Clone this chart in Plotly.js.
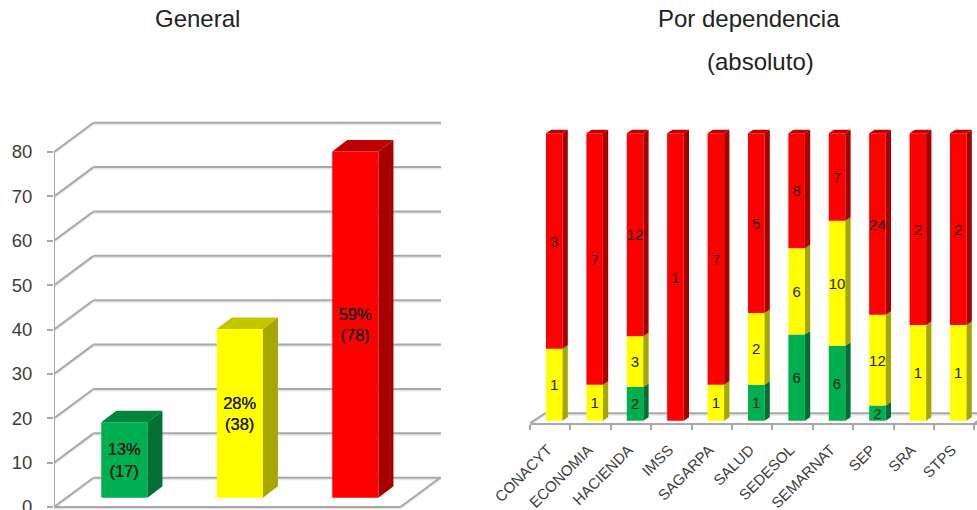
<!DOCTYPE html>
<html>
<head>
<meta charset="utf-8">
<script src="https://cdn.plot.ly/plotly-3.0.1.min.js"></script>
<style>html,body{margin:0;padding:0;background:#fff;overflow:hidden}</style>
</head>
<body>
<div id="chart" style="width:977px;height:510px"></div>
<script>
// ---------- data ----------
const generalValues = [17, 38, 78];
const generalLabels = ["13%<br>(17)", "28%<br>(38)", "59%<br>(78)"];
const generalTicks = [0, 10, 20, 30, 40, 50, 60, 70, 80];

const dependencias = ["CONACYT","ECONOMIA","HACIENDA","IMSS","SAGARPA","SALUD","SEDESOL","SEMARNAT","SEP","SRA","STPS"];
const verdes    = [0, 0, 2, 0, 0, 1, 6, 6, 2, 0, 0];
const amarillos = [1, 1, 3, 0, 1, 2, 6, 10, 12, 1, 1];
const rojos     = [3, 7, 12, 1, 7, 5, 8, 7, 24, 2, 2];

const frontColors = ["#00b050", "#ffff00", "#ff0000"];
const sideColors  = ["#007132", "#a6a600", "#a60000"];
const topColors   = ["#00863c", "#c4c400", "#c00000"];

// ---------- geometry in axis units ----------
const W = 977, H = 510, FONT = '"Liberation Sans", Arial, sans-serif';
const GRID = "#a8a8a8", GRIDSHADOW = "#e6e6e6", TEXT = "#3c3c3c", LABEL = "#1c1c1c";
const L = {px0:54, px1:441, pyBottom:510, pyTop:118, zero:507, ppu:4.4375, pitch:115.5,
           wallDx:0.342, wallDy:6.6, barOff:0.109, barW:0.40, barBase:2.1, barDx:0.13, barDy:2.59};
const R = {px0:530, px1:977, pyBottom:423.3, pyTop:118, zero:420.7, ppu:2.874, pitch:40.4,
           wallDx:0.371, wallDy:3.48, barOff:0.10, barW:0.41, barDx:0.131, barDy:1.22, labelShift:-0.06};
const lyMin = -(L.pyBottom - L.zero) / L.ppu, lyMax = (L.zero - L.pyTop) / L.ppu;
const lxMax = -0.5 + (L.px1 - L.px0) / L.pitch;
const ryMin = -(R.pyBottom - R.zero) / R.ppu, ryMax = (R.zero - R.pyTop) / R.ppu;
const rxMax = -0.5 + (R.px1 - R.px0) / R.pitch;

function face(xs, ys, color, xa, ya) {
  return {type:"scatter", mode:"lines", x:xs, y:ys, fill:"toself", fillcolor:color,
          line:{width:0, color:color}, hoverinfo:"skip", showlegend:false, xaxis:xa, yaxis:ya};
}
function prism(x, w, b, t, dx, dy, side, top, xa, ya, withTop) {
  const out = [face([x+w, x+w+dx, x+w+dx, x+w, x+w], [b, b+dy, t+dy, t, b], side, xa, ya)];
  if (withTop) out.push(face([x, x+dx, x+w+dx, x+w, x], [t, t+dy, t+dy, t, t], top, xa, ya));
  return out;
}
const shadowShapes = [], shapes = [];
function seg(xref, yref, ppu, x0, y0, x1, y1) {
  const off = 1.7 / ppu;
  shadowShapes.push({type:"line", layer:"below", xref:xref, yref:yref, x0:x0, y0:y0-off, x1:x1, y1:y1-off,
          line:{color:GRIDSHADOW, width:1.5}});
  shapes.push({type:"line", layer:"below", xref:xref, yref:yref, x0:x0, y0:y0, x1:x1, y1:y1,
          line:{color:GRID, width:2}});
}

const traces = [];

// ---------- left panel ----------
const lx = generalValues.map((_, i) => i + L.barOff);
traces.push({type:"bar", x:lx, y:generalValues, base:generalValues.map(() => L.barBase), width:L.barW,
  marker:{color:frontColors, line:{width:0}}, text:generalLabels, textposition:"inside",
  insidetextanchor:"middle", constraintext:"none", textangle:0,
  insidetextfont:{family:FONT, size:16.5, color:LABEL, shadow:"0 0 0.5px #1c1c1c"}, hoverinfo:"skip", showlegend:false,
  xaxis:"x", yaxis:"y"});
generalValues.forEach((v, i) => {
  const x = lx[i] - L.barW / 2;
  traces.push(...prism(x, L.barW, L.barBase, L.barBase + v, L.barDx, L.barDy, sideColors[i], topColors[i], "x", "y", true));
});
generalTicks.forEach(t => {
  seg("x","y", L.ppu, -0.5, t, -0.5 + L.wallDx, t + L.wallDy);
  seg("x","y", L.ppu, -0.5 + L.wallDx, t + L.wallDy, lxMax, t + L.wallDy);
});
seg("x","y", L.ppu, -0.5, 0, 2.5, 0);
seg("x","y", L.ppu, 2.5, 0, 2.5 + L.wallDx, L.wallDy);
traces.push({type:"scatter", mode:"lines", x:[-0.5,-0.5], y:[0, generalTicks[generalTicks.length-1]],
  line:{color:GRID, width:2}, cliponaxis:false, hoverinfo:"skip", showlegend:false, xaxis:"x", yaxis:"y"});

// ---------- right panel ----------
const rx = dependencias.map((_, i) => i + R.barOff);
const totals = dependencias.map((_, i) => verdes[i] + amarillos[i] + rojos[i]);
let running = totals.map(() => 0);
const sideFaces = [];
[verdes, amarillos, rojos].forEach((serie, s) => {
  const share = serie.map((v, i) => v / totals[i] * 100);
  const base = running.slice();
  traces.push({type:"bar", x:rx, y:share, base:base, width:R.barW,
    marker:{color:frontColors[s], line:{width:0}}, text:serie.map(v => v ? String(v) : ""),
    textposition:"inside", insidetextanchor:"middle", constraintext:"none", textangle:0,
    insidetextfont:{family:FONT, size:15, color:LABEL}, hoverinfo:"skip", showlegend:false,
    xaxis:"x2", yaxis:"y2"});
  serie.forEach((v, i) => {
    if (!v) return;
    sideFaces.push(...prism(rx[i] - R.barW/2, R.barW, base[i], base[i] + share[i], R.barDx, R.barDy,
      sideColors[s], topColors[s], "x2", "y2", s === 2));
  });
  running = running.map((r, i) => r + share[i]);
});
traces.push(...sideFaces);
seg("x2","y2", R.ppu, -0.5, ryMin, -0.5 + R.wallDx, ryMin + R.wallDy);
seg("x2","y2", R.ppu, -0.5 + R.wallDx, ryMin + R.wallDy, rxMax, ryMin + R.wallDy);
seg("x2","y2", R.ppu, 10.5, ryMin, 10.5 + R.wallDx, ryMin + R.wallDy);

const layout = {
  width:W, height:H, margin:{l:0,r:0,t:0,b:0,pad:0}, paper_bgcolor:"#fff", plot_bgcolor:"rgba(0,0,0,0)",
  barmode:"overlay", showlegend:false, font:{family:FONT, color:TEXT},
  xaxis:{domain:[L.px0/W, L.px1/W], range:[-0.5, lxMax], showgrid:false, zeroline:false, showticklabels:false, ticks:"", showline:false, fixedrange:true},
  yaxis:{domain:[(H-L.pyBottom)/H, (H-L.pyTop)/H], range:[lyMin, lyMax], tickmode:"array", tickvals:generalTicks,
         ticktext:generalTicks.map(String), ticks:"outside", ticklen:6, tickwidth:2, tickcolor:GRID,
         ticklabelstandoff:11, ticklabeloverflow:"allow", showgrid:false, zeroline:false, showline:false,
         tickfont:{family:FONT, size:18.5, color:TEXT}, fixedrange:true},
  xaxis2:{domain:[R.px0/W, 1], range:[-0.5, rxMax], anchor:"y2", tickmode:"array",
          tickvals:dependencias.map((_, i) => i + R.labelShift), ticktext:dependencias, tickangle:-45,
          ticks:"", ticklabelstandoff:10, ticklabeloverflow:"allow", showgrid:false, zeroline:false, showline:true, linecolor:GRID, linewidth:2,
          tickfont:{family:FONT, size:15, color:TEXT}, fixedrange:true,
          minor:{tickmode:"array", tickvals:dependencias.map((_, i) => i - 0.5).concat([10.5]), ticks:"outside", ticklen:5, tickwidth:2, tickcolor:GRID, showgrid:false}},
  yaxis2:{domain:[(H-R.pyBottom)/H, (H-R.pyTop)/H], range:[ryMin, ryMax], anchor:"x2", visible:false, fixedrange:true},
  shapes:shadowShapes.concat(shapes),
  annotations:[
    {text:"General", xref:"paper", yref:"paper", x:197/W, y:1-19/H, showarrow:false, xanchor:"center", yanchor:"middle", font:{family:FONT, size:24, color:"#222"}},
    {text:"Por dependencia", xref:"paper", yref:"paper", x:749/W, y:1-19/H, showarrow:false, xanchor:"center", yanchor:"middle", font:{family:FONT, size:24, color:"#222"}},
    {text:"(absoluto)", xref:"paper", yref:"paper", x:760/W, y:1-61/H, showarrow:false, xanchor:"center", yanchor:"middle", font:{family:FONT, size:24, color:"#222"}}
  ]
};
Plotly.newPlot("chart", traces, layout, {displayModeBar:false, staticPlot:true});
</script>
</body>
</html>
